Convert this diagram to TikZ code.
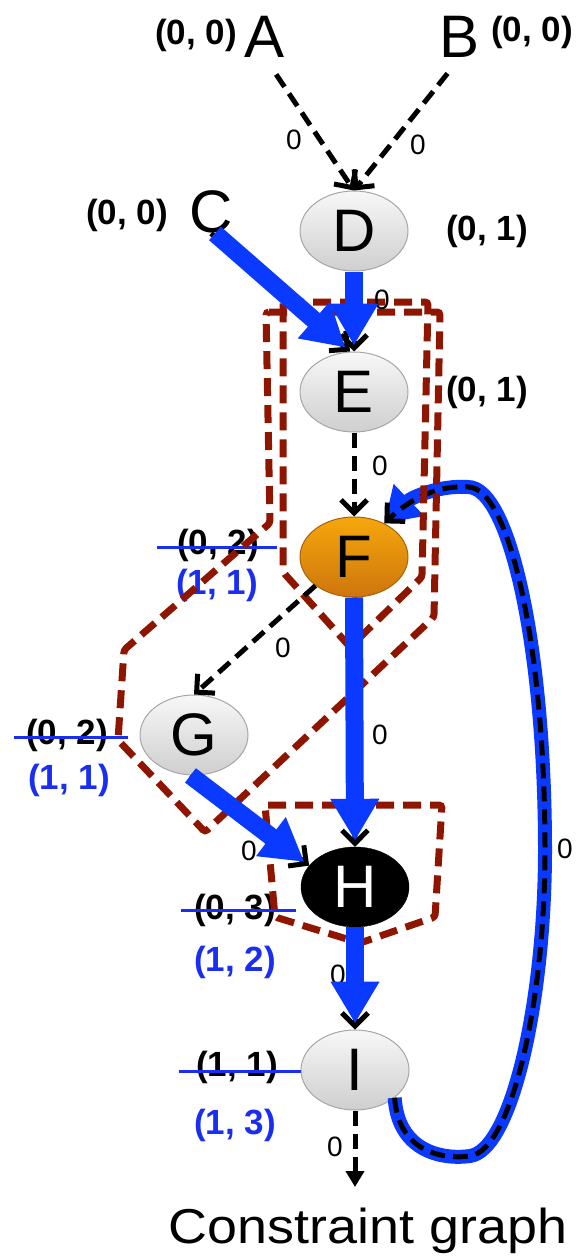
\documentclass[tikz,border=0pt]{standalone}
\usepackage{fontspec}
\setmainfont{Liberation Sans}
\usetikzlibrary{arrows.meta,shapes.geometric}

\definecolor{edgeblue}{HTML}{0A3AFF}
\definecolor{textblue}{HTML}{1A2EF2}
\definecolor{boxred}{HTML}{8E1500}
\definecolor{nodeorange}{HTML}{F28A10}

\tikzset{
  letter/.style={font=\fontsize{60}{60}\selectfont, inner sep=0pt},
  vertex/.style={ellipse, minimum width=108pt, minimum height=80pt, inner sep=0pt,
    draw=gray!70, line width=1pt, top color=gray!6, bottom color=gray!38,
    font=\fontsize{60}{60}\selectfont},
  hot/.style={vertex, draw=nodeorange!70!black, top color=nodeorange!75!yellow,
    bottom color=nodeorange!85!black},
  dark/.style={ellipse, minimum width=108pt, minimum height=80pt, inner sep=0pt,
    draw=black, fill=black, text=white, font=\fontsize{60}{60}\selectfont},
  pair/.style={font=\fontsize{35}{35}\selectfont\bfseries, inner sep=0pt},
  newpair/.style={pair, text=textblue},
  elabel/.style={font=\fontsize{28}{28}\selectfont, inner sep=0pt},
  dash edge/.style={line width=5pt, dash pattern=on 15pt off 8pt,
    -{Straight Barb[length=13pt,width=26pt]}},
  flow/.style={edgeblue, line width=18pt, shorten >=6pt,
    -{Triangle[length=42pt,width=46pt]}},
  strikeout/.style={textblue, line width=3pt},
  region/.style={boxred, line width=7pt, dash pattern=on 18pt off 9pt,
    rounded corners=3pt},
}

\begin{document}
\begin{tikzpicture}[x=1pt,y=-1pt]
\useasboundingbox (0,0) rectangle (580,1257);

% sources
\node[letter] (A) at (265,37) {A};
\node[letter] (B) at (460,37) {B};
\node[letter] (C) at (211,212) {C};

% vertices
\node[vertex] (D) at (354,231) {D};
\node[vertex] (E) at (354,392) {E};
\node[hot]    (F) at (354,557) {F};
\node[vertex] (G) at (194,735) {G};
\node[dark]   (H) at (355,887) {H};
\node[vertex] (I) at (355,1070) {I};

% (old) and new values
\node[pair] (pA) at (196,35) {(0, 0)};
\node[pair] (pB) at (532,32) {(0, 0)};
\node[pair] (pC) at (127,215) {(0, 0)};
\node[pair] (pD) at (487,231) {(0, 1)};
\node[pair] (pE) at (487,392) {(0, 1)};

\node[pair] (oldF) at (218,545) {(0, 2)};
\node[newpair] (newF) at (217,585) {(1, 1)};
\node[pair] (oldG) at (67,735) {(0, 2)};
\node[newpair] (newG) at (69,780) {(1, 1)};
\node[pair] (oldH) at (235,910) {(0, 3)};
\node[newpair] (newH) at (235,962) {(1, 2)};
\node[pair] (oldI) at (237,1067) {(1, 1)};
\node[newpair] (newI) at (235,1125) {(1, 3)};

\draw[strikeout] ([xshift=-20pt,yshift=-2pt]oldF.west) -- ([xshift=18pt,yshift=-2pt]oldF.east);
\draw[strikeout] ([xshift=-12pt,yshift=-2pt]oldG.west) -- ([xshift=20pt,yshift=-2pt]oldG.east);
\draw[strikeout] ([xshift=-13pt]oldH.west) -- ([xshift=20pt]oldH.east);
\draw[strikeout] ([xshift=-17pt,yshift=-4pt]oldI.west) -- ([xshift=23pt,yshift=-4pt]oldI.east);

\node[font=\fontsize{49}{49}\selectfont, anchor=base] (title) at (368,1243)
  {\scalebox{1.1}[1]{Constraint graph}};

% loop from I back to F
\coordinate (lowturn) at (470,1156);
\coordinate (farside) at (545,850);
\coordinate (highturn) at (468,487);
\draw[edgeblue, line width=14pt, -{Triangle[length=34pt,width=42pt]}]
  (I.-35) .. controls (398,1150) and (440,1160) .. (lowturn)
  .. controls (512,1150) and (545,1000) .. (farside)
  .. controls (545,650) and (510,487) .. (highturn)
  .. controls (440,485) and (412,497) .. (F.48);
\draw[dash edge]
  (I.-35) .. controls (398,1150) and (440,1160) .. (lowturn)
  .. controls (512,1150) and (545,1000) .. (farside)
  .. controls (545,650) and (510,487) .. (highturn)
  .. controls (440,485) and (412,497) .. (F.48);

% dashed regions
\draw[region] (266,312) -- (440,312) -- (434,617) -- (205,832) -- (118,740)
  -- (124,650) -- (270,523) -- cycle;
\draw[region] (283,302) -- (428,302) -- (422,577) -- (350,647) -- (283,572) -- cycle;
\draw[region] (265,805) -- (442,805) -- (435,917) -- (360,943) -- (275,917) -- cycle;

% edge weights
\node[elabel] (wAD) at (294,140) {0};
\node[elabel] (wBD) at (418,145) {0};
\node[elabel] (wDE) at (382,300) {0};
\node[elabel] (wEF) at (380,466) {0};
\node[elabel] (wFG) at (283,648) {0};
\node[elabel] (wFH) at (380,735) {0};
\node[elabel] (wGH) at (249,851) {0};
\node[elabel] (wHI) at (338,975) {0};
\node[elabel] (wIF) at (565,849) {0};
\node[elabel] (wout) at (335,1147) {0};

% edges
\coordinate (sink) at (355,1187);
\draw[dash edge, shorten <=20pt] (A.south) -- (D.north);
\draw[dash edge, shorten <=20pt] (B.south) -- (D.north);
\draw[dash edge] (E.south) -- (F.north);
\draw[dash edge] (F.south west) -- (G.north);
\draw[dash edge, -{Triangle[length=16pt,width=18pt]}] (I.south) -- (sink);
\draw[dash edge] (C.south) -- ([xshift=-4pt]E.north);
\draw[dash edge] (D.south) -- (E.north);
\draw[dash edge] (G.-95) -- (H.155);
\draw[dash edge] (F.south) -- (H.north);
\draw[dash edge] (H.south) -- (I.north);

% critical path
\draw[flow] ([xshift=4pt]C.south) -- ([xshift=-4pt]E.north);
\draw[flow] (D.south) -- (E.north);
\draw[flow] (G.-95) -- (H.155);
\draw[flow] (F.south) -- (H.north);
\draw[flow] (H.south) -- (I.north);

\end{tikzpicture}
\end{document}
